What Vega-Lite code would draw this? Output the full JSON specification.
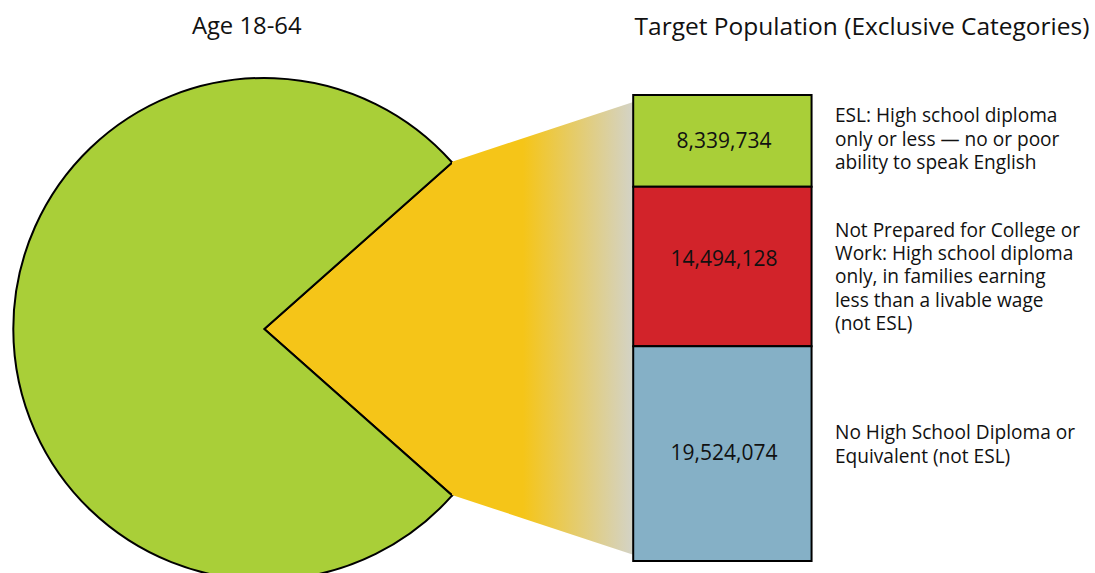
{
  "$schema": "https://vega.github.io/schema/vega-lite/v6.json",
  "width": 1095,
  "height": 573,
  "padding": 0,
  "autosize": {"type": "none"},
  "background": "white",
  "config": {"view": {"stroke": null}, "text": {"font": "Open Sans", "color": "#111111"}},
  "datasets": {
    "pie": [
      {"group": "Target population", "value": 42357936},
      {"group": "Rest of age 18-64", "value": 141170000}
    ],
    "connector": [
      {"end": "Pie slice", "low": 5999000, "high": 36295000},
      {"end": "Bar", "low": 545400, "high": 41749000}
    ],
    "target": [
      {"category": "ESL", "value": 8339734, "label": "ESL: High school diploma\nonly or less — no or poor\nability to speak English"},
      {"category": "Not Prepared", "value": 14494128, "label": "Not Prepared for College or\nWork: High school diploma\nonly, in families earning\nless than a livable wage\n(not ESL)"},
      {"category": "No Diploma", "value": 19524074, "label": "No High School Diploma or\nEquivalent (not ESL)"}
    ]
  },
  "resolve": {"scale": {"x": "independent", "color": "independent"}},
  "layer": [
    {
      "data": {"name": "pie"},
      "mark": {"type": "arc", "outerRadius": 251, "stroke": "black", "strokeWidth": 2, "strokeJoin": "miter"},
      "encoding": {
        "theta": {"field": "value", "type": "quantitative", "stack": true, "scale": {"range": [0.8456, 7.1288], "nice": false}},
        "order": {"field": "value", "sort": "ascending"},
        "color": {"field": "group", "type": "nominal", "scale": {"domain": ["Target population", "Rest of age 18-64"], "range": ["#F5C518", "#A9CF38"]}, "legend": null},
        "x": {"datum": 264.3, "type": "quantitative", "scale": {"domain": [0, 1095], "nice": false, "zero": false}, "axis": null},
        "y": {"datum": 21089000, "type": "quantitative", "scale": {"domain": [-1090800, 50995000], "nice": false, "zero": false}, "axis": null}
      }
    },
    {
      "data": {"name": "connector"},
      "mark": {"type": "area", "strokeWidth": 0, "fill": {"gradient": "linear", "x1": 0, "y1": 0, "x2": 1, "y2": 0, "stops": [{"offset": 0, "color": "#F5C518"}, {"offset": 0.39, "color": "#F5C518"}, {"offset": 1, "color": "#D3D3C8"}]}},
      "encoding": {
        "x": {"field": "end", "type": "ordinal", "scale": {"type": "point", "domain": ["Pie slice", "Bar"], "range": [452, 634], "padding": 0}, "axis": null},
        "y": {"field": "high", "type": "quantitative", "stack": null, "scale": {"domain": [-1090800, 50995000], "nice": false, "zero": false}, "axis": null},
        "y2": {"field": "low"}
      }
    },
    {
      "data": {"name": "target"},
      "mark": {"type": "bar", "orient": "vertical", "stroke": "black", "strokeWidth": 2},
      "encoding": {
        "x": {"datum": 634, "type": "quantitative", "scale": {"domain": [0, 1095], "nice": false, "zero": false}, "axis": null},
        "x2": {"datum": 814},
        "y": {"field": "value", "type": "quantitative", "stack": "zero", "scale": {"domain": [-1090800, 50995000], "nice": false, "zero": false}, "axis": null},
        "order": {"field": "value", "sort": "descending"},
        "color": {"field": "category", "type": "nominal", "scale": {"domain": ["ESL", "Not Prepared", "No Diploma"], "range": ["#A9CF38", "#D2232A", "#85B0C6"]}, "legend": null}
      }
    },
    {
      "data": {"name": "target"},
      "mark": {"type": "text", "fontSize": 21, "align": "center", "baseline": "middle"},
      "encoding": {
        "x": {"datum": 724, "type": "quantitative", "scale": {"domain": [0, 1095], "nice": false, "zero": false}, "axis": null},
        "y": {"field": "value", "type": "quantitative", "stack": "zero", "bandPosition": 0.49, "scale": {"domain": [-1090800, 50995000], "nice": false, "zero": false}, "axis": null},
        "order": {"field": "value", "sort": "descending"},
        "detail": {"field": "category"},
        "text": {"condition": {"test": "datum.category === 'ESL'", "field": "value", "type": "quantitative", "format": ",d"}, "value": ""}
      }
    },
    {
      "data": {"name": "target"},
      "mark": {"type": "text", "fontSize": 21, "align": "center", "baseline": "middle"},
      "encoding": {
        "x": {"datum": 724, "type": "quantitative", "scale": {"domain": [0, 1095], "nice": false, "zero": false}, "axis": null},
        "y": {"field": "value", "type": "quantitative", "stack": "zero", "bandPosition": 0.54, "scale": {"domain": [-1090800, 50995000], "nice": false, "zero": false}, "axis": null},
        "order": {"field": "value", "sort": "descending"},
        "detail": {"field": "category"},
        "text": {"condition": {"test": "datum.category === 'Not Prepared'", "field": "value", "type": "quantitative", "format": ",d"}, "value": ""}
      }
    },
    {
      "data": {"name": "target"},
      "mark": {"type": "text", "fontSize": 21, "align": "center", "baseline": "middle"},
      "encoding": {
        "x": {"datum": 724, "type": "quantitative", "scale": {"domain": [0, 1095], "nice": false, "zero": false}, "axis": null},
        "y": {"field": "value", "type": "quantitative", "stack": "zero", "bandPosition": 0.5, "scale": {"domain": [-1090800, 50995000], "nice": false, "zero": false}, "axis": null},
        "order": {"field": "value", "sort": "descending"},
        "detail": {"field": "category"},
        "text": {"condition": {"test": "datum.category === 'No Diploma'", "field": "value", "type": "quantitative", "format": ",d"}, "value": ""}
      }
    },
    {
      "data": {"name": "target"},
      "mark": {"type": "text", "fontSize": 19.1, "lineHeight": 23.3, "lineBreak": "\n", "align": "left", "baseline": "middle"},
      "encoding": {
        "x": {"datum": 835, "type": "quantitative", "scale": {"domain": [0, 1095], "nice": false, "zero": false}, "axis": null},
        "y": {"field": "value", "type": "quantitative", "stack": "zero", "bandPosition": 0.767, "scale": {"domain": [-1090800, 50995000], "nice": false, "zero": false}, "axis": null},
        "order": {"field": "value", "sort": "descending"},
        "detail": {"field": "category"},
        "text": {"condition": {"test": "datum.category === 'ESL'", "field": "label", "type": "nominal"}, "value": ""}
      }
    },
    {
      "data": {"name": "target"},
      "mark": {"type": "text", "fontSize": 19.1, "lineHeight": 23.3, "lineBreak": "\n", "align": "left", "baseline": "middle"},
      "encoding": {
        "x": {"datum": 835, "type": "quantitative", "scale": {"domain": [0, 1095], "nice": false, "zero": false}, "axis": null},
        "y": {"field": "value", "type": "quantitative", "stack": "zero", "bandPosition": 0.724, "scale": {"domain": [-1090800, 50995000], "nice": false, "zero": false}, "axis": null},
        "order": {"field": "value", "sort": "descending"},
        "detail": {"field": "category"},
        "text": {"condition": {"test": "datum.category === 'Not Prepared'", "field": "label", "type": "nominal"}, "value": ""}
      }
    },
    {
      "data": {"name": "target"},
      "mark": {"type": "text", "fontSize": 19.1, "lineHeight": 23.3, "lineBreak": "\n", "align": "left", "baseline": "middle"},
      "encoding": {
        "x": {"datum": 835, "type": "quantitative", "scale": {"domain": [0, 1095], "nice": false, "zero": false}, "axis": null},
        "y": {"field": "value", "type": "quantitative", "stack": "zero", "bandPosition": 0.594, "scale": {"domain": [-1090800, 50995000], "nice": false, "zero": false}, "axis": null},
        "order": {"field": "value", "sort": "descending"},
        "detail": {"field": "category"},
        "text": {"condition": {"test": "datum.category === 'No Diploma'", "field": "label", "type": "nominal"}, "value": ""}
      }
    },
    {
      "data": {"values": [{"title": "Age 18-64"}]},
      "mark": {"type": "text", "fontSize": 23.8, "align": "center", "baseline": "middle"},
      "encoding": {
        "x": {"datum": 246.7, "type": "quantitative", "scale": {"domain": [0, 1095], "nice": false, "zero": false}, "axis": null},
        "y": {"datum": 48500000, "type": "quantitative", "scale": {"domain": [-1090800, 50995000], "nice": false, "zero": false}, "axis": null},
        "text": {"field": "title", "type": "nominal"}
      }
    },
    {
      "data": {"values": [{"title": "Target Population (Exclusive Categories)"}]},
      "mark": {"type": "text", "fontSize": 24.5, "align": "center", "baseline": "middle"},
      "encoding": {
        "x": {"datum": 862, "type": "quantitative", "scale": {"domain": [0, 1095], "nice": false, "zero": false}, "axis": null},
        "y": {"datum": 48450000, "type": "quantitative", "scale": {"domain": [-1090800, 50995000], "nice": false, "zero": false}, "axis": null},
        "text": {"field": "title", "type": "nominal"}
      }
    }
  ]
}
